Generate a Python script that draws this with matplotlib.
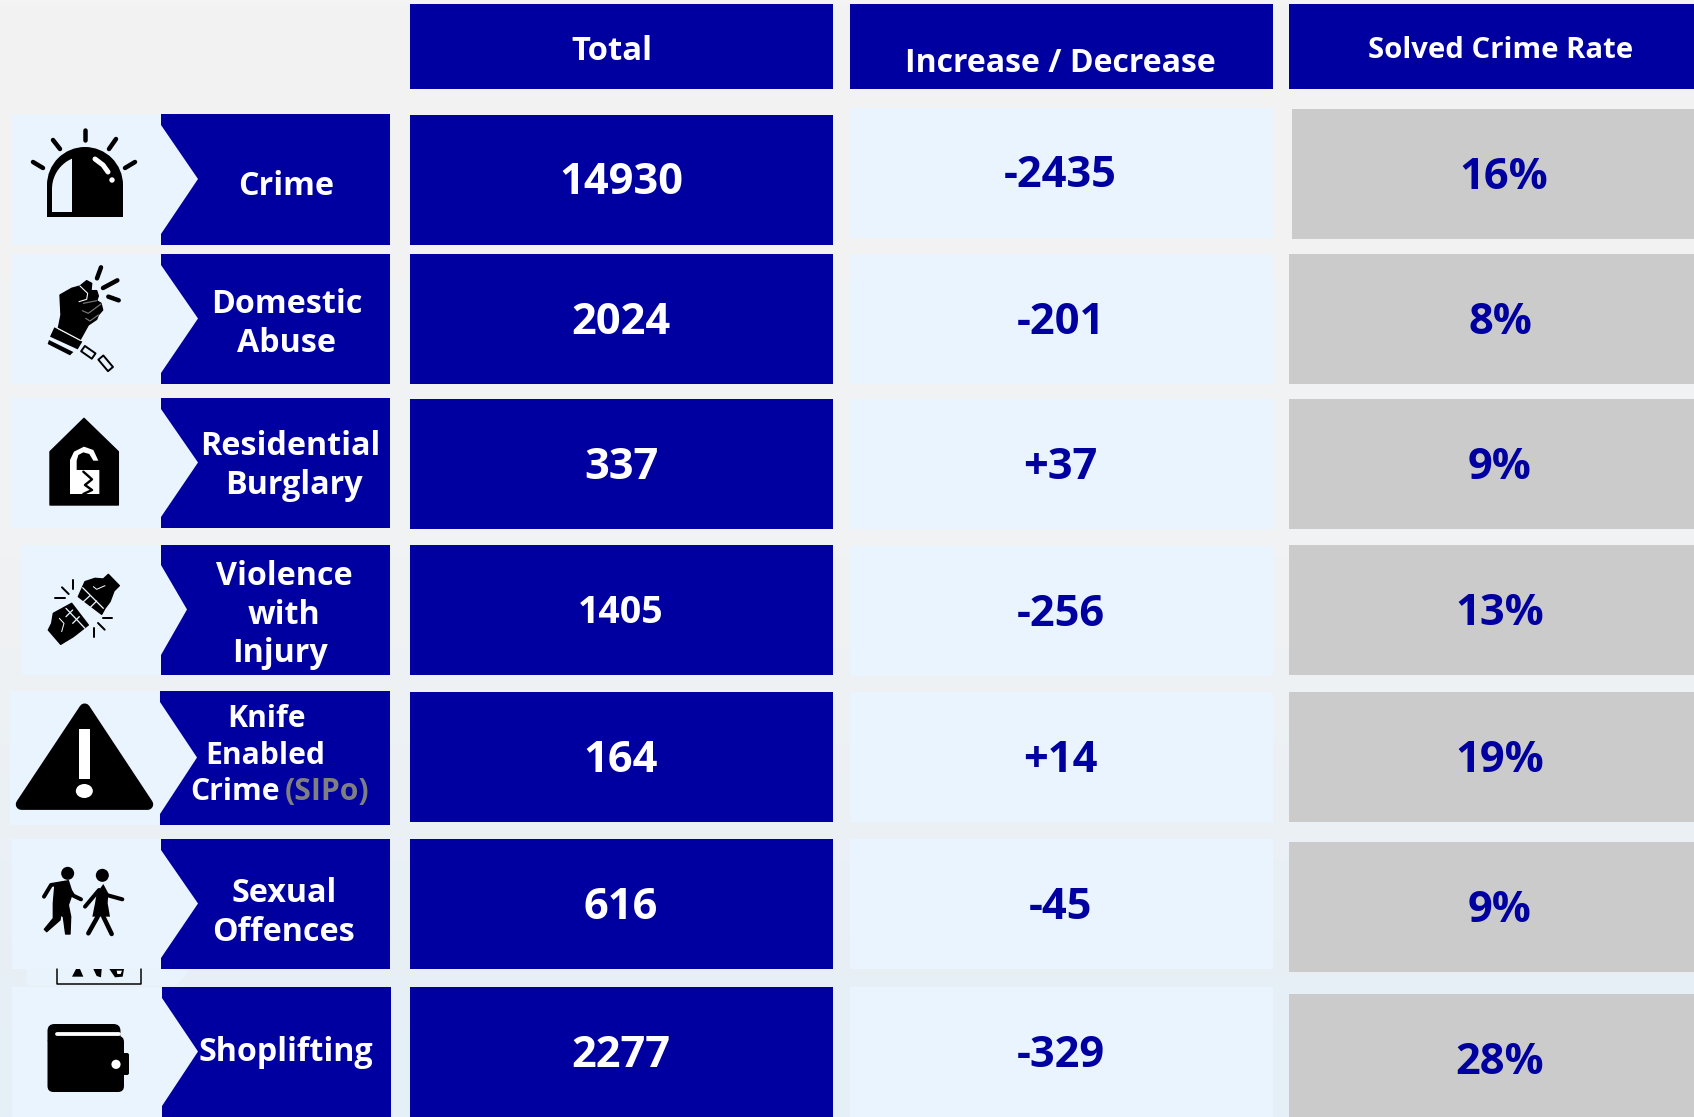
import numpy as np
import matplotlib
matplotlib.use("Agg")
import matplotlib.pyplot as plt
from matplotlib.colors import LinearSegmentedColormap
from matplotlib.patches import Rectangle, Polygon, Circle, Ellipse, FancyBboxPatch, Wedge

plt.rcParams['font.family'] = ['Open Sans', 'DejaVu Sans']

# values
headers = ["Total", "Increase / Decrease", "Solved Crime Rate"]
categories = ["Crime", "Domestic Abuse", "Residential Burglary", "Violence with Injury",
              "Knife Enabled Crime (SIPo)", "Sexual Offences", "Shoplifting"]
totals = [14930, 2024, 337, 1405, 164, 616, 2277]
changes = [-2435, -201, 37, -256, 14, -45, -329]
solved_rates = [16, 8, 9, 13, 19, 9, 28]

# layout, in pixels of the 1694x1117 picture
W, H = 1694, 1117
BLUE = "#0000A0"
LIGHT = "#E9F4FE"
GREY = "#CBCBCB"

total_tops = [115, 254, 399, 545, 692, 839, 987]
change_tops = [108, 254, 399, 546, 692, 839, 987]
rate_tops = [109, 254, 399, 545, 692, 842, 994]
label_tops = [114, 254, 398, 545, 691, 839, 987]
label_bottoms = [245, 384, 528, 675, 825, 969, 1117]
total_base = [194, 334, 479, 623, 772, 919, 1067]
change_base = [187, 334, 479, 626, 772, 919, 1067]
rate_base = [189, 334, 479, 625, 772, 922, 1074]
total_sizes = [31.2, 31.2, 31.2, 27, 31.2, 31.2, 31.2]
rate_x = [1504, 1500, 1500, 1500, 1500, 1500, 1500]
label_left = [161, 161, 161, 161, 160, 161, 162]
label_tip = [198, 198, 198, 187, 197, 198, 198]
box_left = [12, 12, 12, 22, 10, 12, 12]

fig = plt.figure(figsize=(W / 100, H / 100), dpi=100)
ax = fig.add_axes([0, 0, 1, 1])
ax.set_xlim(0, W)
ax.set_ylim(H, 0)
ax.axis("off")

# page background goes from grey to pale blue
bg = LinearSegmentedColormap.from_list("bg", ["#F3F3F3", "#F1F2F3", "#E4EFF7"])
ax.imshow(np.linspace(0, 1, 200)[:, None], cmap=bg, extent=[0, W, H, 0], aspect="auto", zorder=0)
ax.set_xlim(0, W)
ax.set_ylim(H, 0)


def rect(x0, y0, x1, y1, color, z=1):
    ax.add_patch(Rectangle((x0, y0), x1 - x0, y1 - y0, fc=color, ec="none", zorder=z))


def poly(pts, color="black", z=4, lw=0):
    ax.add_patch(Polygon(pts, closed=True, fc=color, ec=color if lw else "none", lw=lw, joinstyle="round", zorder=z))


def stroke(pts, color="black", px=4.5, z=4):
    xs, ys = zip(*pts)
    ax.plot(xs, ys, color=color, lw=px * 0.72, solid_capstyle="round", solid_joinstyle="round", zorder=z)


def label(x, y, s, size=23.2, color="white", ha="center"):
    ax.text(x, y, s, fontsize=size, color=color, ha=ha, va="baseline", fontweight="bold", zorder=6)


def crop(pts, x0, y0):
    return [(x0 + x / 3, y0 + y / 3) for x, y in pts]


def link(cx, cy, length, width, angle):
    # one open chain link
    t = np.radians(angle)
    u = np.array([np.cos(t), np.sin(t)]) * length / 2
    v = np.array([-np.sin(t), np.cos(t)]) * width / 2
    c = np.array([cx, cy])
    ax.add_patch(Polygon([c - u - v, c + u - v, c + u + v, c - u + v], closed=True, fc=LIGHT, ec="black",
                         lw=1.4, joinstyle="round", zorder=5))


# header row
rect(410, 4, 833, 89, BLUE)
rect(850, 4, 1273, 89, BLUE)
rect(1289, 4, W, 89, BLUE)
label(612, 60, headers[0], 23.6)
label(1060, 72, headers[1], 23)
label(1500.5, 58, headers[2], 21.1)

# table columns
for i in range(len(categories)):
    rect(410, total_tops[i], 833, total_tops[i] + 130, BLUE)
    rect(850, change_tops[i], 1273, change_tops[i] + 130, LIGHT)
    x0 = 1292 if i == 0 else 1289
    rect(x0, rate_tops[i], W, rate_tops[i] + 130, GREY)
    label(621, total_base[i], str(totals[i]), total_sizes[i])
    label(1060.5, change_base[i], f"{changes[i]:+d}", 31.2, BLUE)
    label(rate_x[i], rate_base[i], f"{solved_rates[i]}%", 31.2, BLUE)

    # left arrow label
    top, bot, lx, tip = label_tops[i], label_bottoms[i], label_left[i], label_tip[i]
    dy = 20 if i == 3 else 11
    mid = (top + bot) / 2 - 0.5
    poly([(box_left[i], top), (lx, top), (tip, mid), (lx, bot), (box_left[i], bot)], LIGHT, z=1)
    poly([(lx, top), (390 if i < 6 else 391, top), (390 if i < 6 else 391, bot), (lx, bot),
          (lx, bot - dy), (tip, mid), (lx, top + dy)], BLUE, z=2)

# category text, split in lines like the reference
label(286.5, 195, "Crime")
label(286.5, 313, "Domestic")
label(286.5, 352, "Abuse")
label(290, 455, "Residential")
label(294, 494, "Burglary")
label(284, 585, "Violence")
label(284, 624, "with")
label(280, 662, "Injury")
label(266, 727, "Knife", 21.7)
label(265, 764, "Enabled", 21.7)
label(190.5, 800, "Crime", 21.7, ha="left")
label(285, 800, "(SIPo)", 21.7, "#7F7F7F", ha="left")
label(284, 902, "Sexual")
label(284, 941, "Offences")
label(285.5, 1061, "Shoplifting")

# siren icon
ax.add_patch(Wedge((85, 185), 38, 180, 360, fc="black", ec="none", zorder=4))
rect(47, 185, 123, 217, "black", 4)
t = np.linspace(np.pi, np.arccos(-13 / 33), 20)
arc = list(zip(85 + 33 * np.cos(t), 189 - 33 * np.sin(t)))
poly([(52, 212)] + arc + [(72, 212)], LIGHT, z=5)
stroke([(95, 159), (103, 165), (108, 172)], "white", 5, z=6)
ax.add_patch(Circle((112, 180), 2.7, fc="white", ec="none", zorder=6))
for a, b in [((85, 130), (85, 140)), ((53, 140), (60, 149)), ((116, 139), (109, 149)),
             ((33, 162), (43, 168)), ((135, 162), (125, 168))]:
    stroke([a, b])

# fist with broken cuff
FX, FY = 35, 260
poly(crop([(75, 105), (110, 85), (135, 78), (155, 62), (170, 70), (168, 92), (185, 92), (190, 108), (185, 122),
           (198, 130), (203, 150), (190, 165), (185, 178), (160, 195), (135, 240), (70, 205), (78, 165)], FX, FY), lw=1)
poly(crop([(58, 202), (142, 245), (128, 268), (45, 230)], FX, FY))
poly(crop([(42, 240), (115, 276), (105, 286), (38, 252)], FX, FY))
stroke(crop([(135, 78), (158, 100), (155, 118), (132, 125)], FX, FY), "white", 1.1, z=5)
stroke(crop([(145, 130), (185, 122)], FX, FY), "#777777", 1.2, z=5)
stroke(crop([(142, 152), (160, 160), (198, 132)], FX, FY), "#777777", 1.2, z=5)
stroke(crop([(152, 175), (165, 183), (190, 165)], FX, FY), "#777777", 1.2, z=5)
stroke(crop([(68, 205), (136, 241)], FX, FY), "white", 1.2, z=5)
link(FX + 160 / 3, FY + 277 / 3, 13, 6.5, 35)
link(FX + 212 / 3, FY + 310 / 3, 15, 6.5, 50)
for pts in ([(198, 22), (186, 55)], [(247, 61), (204, 84)], [(220, 110), (251, 121)]):
    stroke(crop(pts, FX, FY))

# house with broken padlock
poly(crop([(252, 85), (355, 185), (355, 345), (150, 345), (150, 185)], 0, 390), lw=1)
poly(crop([(210, 210), (222, 185), (252, 170), (280, 180), (295, 212), (280, 212), (268, 192), (250, 187),
           (235, 195), (230, 212), (230, 240), (298, 240), (298, 312), (210, 312)], 0, 390), "white", z=5)
stroke(crop([(250, 245), (276, 268), (255, 285), (276, 300), (250, 312)], 0, 390), "black", 2.4, z=6)

# two fists
BX, BY = 40, 565
poly(crop([(205, 28), (238, 62), (222, 78), (210, 110), (195, 130), (185, 148), (115, 95), (135, 50), (165, 40),
           (190, 42)], BX, BY), lw=1)
poly(crop([(25, 195), (62, 238), (100, 215), (145, 180), (95, 115), (40, 145), (35, 175)], BX, BY), lw=1)
for pts in ([(128, 68), (190, 130)], [(150, 92), (128, 112)], [(170, 108), (150, 128)],
            [(78, 130), (135, 190)], [(98, 135), (78, 155)], [(118, 155), (98, 175)]):
    stroke(crop(pts, BX, BY), LIGHT, 1.3, z=5)
stroke(crop([(160, 65), (170, 73), (195, 62)], BX, BY), "white", 1, z=5)
stroke(crop([(58, 160), (72, 175), (65, 200)], BX, BY), "white", 1, z=5)
for pts in ([(98, 45), (98, 72)], [(66, 67), (86, 87)], [(44, 98), (74, 98)],
            [(162, 190), (162, 216)], [(174, 174), (194, 194)], [(188, 160), (216, 160)]):
    stroke(crop(pts, BX, BY), "black", 2)

# warning triangle
poly(crop([(254, 87), (443, 373), (64, 373)], 0, 680), lw=8)
rect(238 / 3, 680 + 147 / 3, 270 / 3, 680 + 297 / 3, "white", 5)
ax.add_patch(Ellipse((253 / 3, 680 + 333 / 3), 17, 14, fc="white", ec="none", zorder=5))

# two walking people
WX, WY = 35, 860
ax.add_patch(Circle((WX + 98 / 3, WY + 40 / 3), 6.5, fc="black", ec="none", zorder=4))
ax.add_patch(Circle((WX + 202 / 3, WY + 46 / 3), 6.5, fc="black", ec="none", zorder=4))
poly(crop([(60, 72), (100, 62), (112, 100), (100, 135), (107, 170), (105, 222), (92, 222), (85, 170), (77, 165),
           (75, 180), (35, 215), (28, 208), (55, 175), (55, 130)], WX, WY), lw=1)
stroke(crop([(27, 110), (48, 75), (90, 68)], WX, WY), px=4)
stroke(crop([(100, 85), (115, 107), (138, 118)], WX, WY), px=4)
poly(crop([(205, 72), (220, 100), (218, 130), (225, 170), (172, 170), (180, 130), (185, 100)], WX, WY))
stroke(crop([(192, 90), (150, 140)], WX, WY), px=4)
stroke(crop([(215, 105), (262, 118)], WX, WY), px=4)
stroke(crop([(188, 170), (160, 220)], WX, WY), px=4.5)
stroke(crop([(205, 170), (230, 222)], WX, WY), px=4.5)

# leftover of a hidden icon between the last two rows
poly(crop([(80, 867), (570, 867), (530, 917), (80, 917)], 0, 680), "#E9F3FB", z=1)
stroke(crop([(172, 867), (172, 912), (422, 912), (422, 867)], 0, 680), "black", 1.5)
poly(crop([(216, 890), (250, 890), (240, 867), (228, 867)], 0, 680))
poly(crop([(280, 867), (305, 867), (303, 892), (290, 888)], 0, 680))
poly(crop([(328, 867), (372, 867), (368, 890), (345, 892)], 0, 680))
poly(crop([(350, 872), (366, 872), (362, 882), (352, 882)], 0, 680), "white", z=5)

# wallet
ax.add_patch(FancyBboxPatch((47.5, 1024), 73, 22, boxstyle="round,pad=0,rounding_size=7", fc="black", ec="none", zorder=4))
ax.add_patch(FancyBboxPatch((47.5, 1036), 76.5, 56, boxstyle="round,pad=0,rounding_size=6", fc="black", ec="none", zorder=4))
ax.add_patch(FancyBboxPatch((118, 1053), 11, 22, boxstyle="round,pad=0,rounding_size=2", fc="black", ec="none", zorder=4))
stroke(crop([(52, 56), (236, 56)], 40, 1015), "white", 3.8, z=5)
rect(121, 1024, 125, 1033, LIGHT, 5)
ax.add_patch(Circle((40 + 228 / 3, 1015 + 148 / 3), 4.6, fc="white", ec="none", zorder=5))

fig.savefig("out.png", dpi=100)
